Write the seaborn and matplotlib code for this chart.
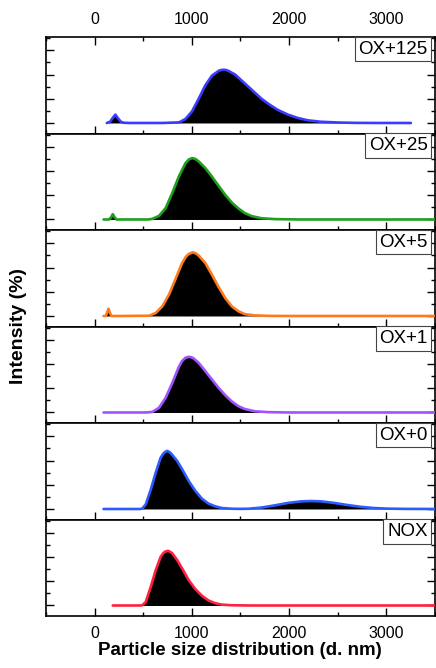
import matplotlib
matplotlib.use("Agg")
import matplotlib.pyplot as plt
from matplotlib.ticker import MultipleLocator
import seaborn as sns
import pandas as pd

sns.set_theme(style="ticks")
plt.rcParams['font.family'] = ['Liberation Sans', 'DejaVu Sans']

labels = ["OX+125", "OX+25", "OX+5", "OX+1", "OX+0", "NOX"]
colors = ["#3b3bff", "#1ea01e", "#ff7a1a", "#a052ff", "#2a5cff", "#ff2040"]

x_ox125 = [126, 160, 185, 214, 240, 270, 300, 350, 500, 700, 870, 935, 1003, 1071, 1139, 1207, 1276, 1300, 1327, 1355, 1378, 1446, 1514, 1582, 1650, 1718, 1803, 1888, 1990, 2092, 2194, 2330, 2500, 2670, 2900, 3255]
y_ox125 = [0, 0.1, 0.4, 0.69, 0.4, 0.1, 0.02, 0, 0, 0, 0.05, 0.33, 0.96, 2.0, 3.1, 3.9, 4.3, 4.37, 4.4, 4.37, 4.3, 4.0, 3.5, 3.0, 2.5, 2.0, 1.5, 1.07, 0.69, 0.41, 0.22, 0.1, 0.04, 0.01, 0, 0]

x_ox25 = [92, 150, 170, 187, 205, 225, 300, 550, 595, 663, 731, 800, 867, 935, 969, 1003, 1037, 1071, 1139, 1207, 1276, 1344, 1412, 1480, 1548, 1616, 1718, 1854, 2100, 3500]
y_ox25 = [0, 0, 0.2, 0.44, 0.2, 0, 0, 0, 0.05, 0.3, 0.94, 2.2, 3.55, 4.65, 4.95, 5.07, 5.0, 4.8, 4.25, 3.55, 2.78, 2.04, 1.4, 0.91, 0.52, 0.28, 0.1, 0.03, 0, 0]

x_ox5 = [92, 115, 130, 143, 156, 172, 250, 560, 629, 697, 765, 833, 901, 940, 969, 1010, 1040, 1071, 1139, 1207, 1276, 1344, 1412, 1480, 1548, 1650, 1786, 2000, 3500]
y_ox5 = [0, 0, 0.3, 0.6, 0.3, 0, 0, 0.02, 0.25, 0.8, 1.76, 3.06, 4.38, 4.9, 5.12, 5.26, 5.18, 4.99, 4.38, 3.42, 2.4, 1.49, 0.8, 0.39, 0.15, 0.05, 0.01, 0, 0]

x_ox1 = [92, 530, 595, 663, 731, 800, 867, 900, 935, 969, 1000, 1020, 1071, 1139, 1207, 1276, 1344, 1412, 1480, 1548, 1650, 1786, 2000, 3500]
y_ox1 = [0, 0, 0.05, 0.39, 1.21, 2.45, 3.77, 4.25, 4.52, 4.6, 4.55, 4.46, 4.1, 3.42, 2.73, 2.04, 1.43, 0.91, 0.52, 0.28, 0.1, 0.03, 0, 0]

x_ox0 = [92, 470, 493, 527, 578, 629, 680, 705, 724, 748, 775, 800, 850, 901, 969, 1037, 1105, 1173, 1241, 1310, 1412, 1500, 1582, 1718, 1854, 1990, 2126, 2228, 2330, 2466, 2602, 2738, 2874, 3010, 3180, 3500]
y_ox0 = [0, 0, 0.05, 0.39, 1.6, 3.0, 4.24, 4.55, 4.7, 4.8, 4.68, 4.46, 3.97, 3.28, 2.31, 1.49, 0.85, 0.44, 0.22, 0.08, 0.02, 0.01, 0.02, 0.12, 0.3, 0.5, 0.63, 0.66, 0.63, 0.5, 0.33, 0.18, 0.08, 0.03, 0.01, 0]

x_nox = [187, 470, 493, 527, 578, 629, 680, 705, 724, 755, 780, 800, 850, 901, 969, 1037, 1105, 1173, 1241, 1310, 1412, 1600, 3500]
y_nox = [0, 0, 0.03, 0.3, 1.54, 2.92, 4.02, 4.3, 4.44, 4.52, 4.42, 4.3, 3.75, 3.06, 2.09, 1.35, 0.8, 0.41, 0.19, 0.07, 0.02, 0, 0]

series_x = [x_ox125, x_ox25, x_ox5, x_ox1, x_ox0, x_nox]
series_y = [y_ox125, y_ox25, y_ox5, y_ox1, y_ox0, y_nox]

fig, axes = plt.subplots(6, 1, figsize=(4.36, 6.68), dpi=100, sharex=True)
fig.subplots_adjust(left=0.1055, right=0.997, top=0.9446, bottom=0.0778, hspace=0)

for i, ax in enumerate(axes):
    df = pd.DataFrame({"size": series_x[i], "intensity": series_y[i]})
    ax.fill_between(df["size"], 0, df["intensity"], color="black", lw=0, zorder=2)
    sns.lineplot(data=df, x="size", y="intensity", ax=ax, color=colors[i], lw=1.9,
                 sort=False, estimator=None, zorder=3)
    ax.set_xlim(-500, 3500)
    ax.set_ylim(-0.87, 7.1)
    ax.set_xlabel("")
    ax.set_ylabel("")
    ax.xaxis.set_major_locator(MultipleLocator(1000))
    ax.xaxis.set_minor_locator(MultipleLocator(500))
    ax.yaxis.set_major_locator(MultipleLocator(2))
    ax.yaxis.set_minor_locator(MultipleLocator(1))
    ax.tick_params(axis="both", which="both", direction="in", width=1.0, color="black")
    ax.tick_params(axis="both", which="major", length=5.5)
    ax.tick_params(axis="both", which="minor", length=3.2)
    ax.tick_params(axis="y", which="both", left=True, right=True, labelleft=False)
    ax.tick_params(axis="x", which="both", top=False, bottom=True, labelbottom=False,
                   labelsize=11.5, colors="black")
    for s in ax.spines.values():
        s.set_linewidth(1.2)
        s.set_color("black")
    ax.annotate(labels[i], xy=(1, 1), xycoords="axes fraction", xytext=(-5, -2.6),
                textcoords="offset points", ha="right", va="top", fontsize=13.5,
                color="black",
                bbox=dict(boxstyle="square,pad=0.2", fc="white", ec="#444444", lw=0.8),
                zorder=5)

axes[0].tick_params(axis="x", which="both", top=True, labeltop=True, pad=7)
axes[-1].tick_params(axis="x", which="both", labelbottom=True, pad=7)
axes[-1].set_xlabel("Particle size distribution (d. nm)", fontsize=13.5, fontweight="bold",
                    labelpad=1, color="black")
fig.text(0.043, 0.512, "Intensity (%)", rotation=90, fontsize=14, fontweight="bold",
         ha="center", va="center", color="black")

fig.savefig("out.png", dpi=100)
